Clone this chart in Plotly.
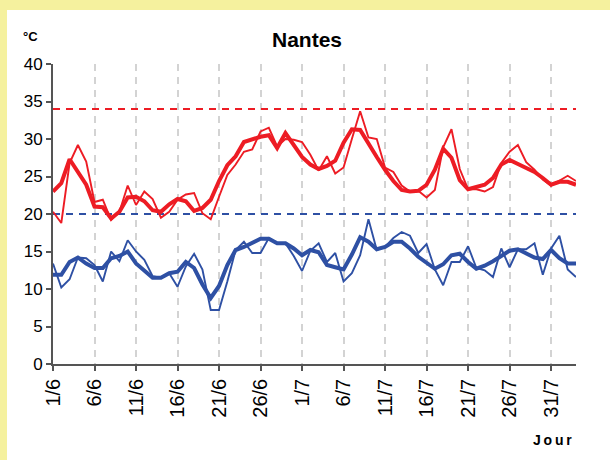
import plotly.graph_objects as go

# Day labels 1/6 .. 3/8
days = [f"{d}/6" for d in range(1, 31)] + [f"{d}/7" for d in range(1, 32)] + [f"{d}/8" for d in range(1, 4)]
tick_labels = days[0:61:5]

tmax = [20.3, 18.8, 26.8, 29.2, 27.0, 21.6, 21.9, 19.2, 20.3, 23.8,
        21.2, 23.0, 22.0, 19.5, 20.3, 21.9, 22.6, 22.8, 20.1, 19.3,
        22.3, 25.2, 26.6, 28.3, 28.6, 31.0, 31.5, 29.0, 30.0, 29.9,
        29.6, 27.9, 25.8, 27.7, 25.4, 26.2, 30.0, 33.7, 30.2, 30.0,
        26.2, 25.6, 23.8, 23.0, 23.1, 22.2, 23.2, 28.9, 31.3, 26.0,
        23.3, 23.3, 23.0, 23.6, 26.8, 28.3, 29.2, 26.9, 25.9, 24.6,
        23.8, 24.4, 25.1, 24.4]
tmax_smooth = [23.0, 24.1, 27.3, 25.7, 23.9, 21.0, 20.9, 19.4, 20.3, 22.2,
               22.3, 21.7, 20.5, 20.3, 21.3, 22.0, 21.7, 20.4, 20.8, 21.9,
               24.4, 26.5, 27.7, 29.6, 30.0, 30.3, 30.5, 28.8, 30.8, 29.2,
               27.6, 26.6, 26.0, 26.4, 27.1, 29.5, 31.3, 31.2, 29.3, 27.6,
               25.9, 24.4, 23.2, 23.0, 23.1, 23.9, 25.9, 28.7, 27.5, 24.5,
               23.3, 23.6, 23.9, 24.8, 26.6, 27.2, 26.7, 26.1, 25.6, 24.8,
               23.9, 24.3, 24.3, 23.9]
tmin = [13.4, 10.2, 11.3, 14.2, 14.1, 13.2, 11.0, 15.0, 13.7, 16.5,
        15.0, 13.9, 11.7, 11.5, 12.1, 10.3, 13.0, 14.7, 12.6, 7.2,
        7.2, 11.0, 15.2, 16.3, 14.8, 14.8, 16.8, 16.1, 16.1, 14.4,
        12.4, 15.1, 16.1, 13.6, 14.8, 11.0, 12.1, 14.5, 19.3, 15.2,
        15.6, 16.8, 17.6, 17.1, 14.8, 16.0, 12.6, 10.5, 13.6, 13.6,
        15.7, 12.8, 12.5, 11.6, 15.4, 12.9, 15.3, 15.3, 16.1, 11.9,
        15.4, 17.1, 12.6, 11.6]
tmin_smooth = [11.9, 11.9, 13.6, 14.2, 13.4, 12.8, 12.8, 14.1, 14.4, 15.0,
               13.4, 12.5, 11.5, 11.5, 12.1, 12.3, 13.6, 12.8, 10.6, 8.8,
               10.4, 13.2, 15.2, 15.6, 16.1, 16.7, 16.7, 16.1, 16.1, 15.4,
               14.5, 15.2, 14.9, 13.2, 12.9, 12.6, 14.6, 16.9, 16.3, 15.3,
               15.6, 16.3, 16.3, 15.4, 14.3, 13.5, 12.7, 13.3, 14.5, 14.7,
               13.6, 12.7, 13.1, 13.7, 14.4, 15.1, 15.3, 14.8, 14.2, 14.0,
               15.2, 14.1, 13.4, 13.4]
max_threshold = 34.0
min_threshold = 20.0

RED = "rgb(237,28,36)"
BLUE = "rgb(46,80,164)"
YELLOW = "#F5F19E"

fig = go.Figure()
fig.add_trace(go.Scatter(x=days, y=[max_threshold] * len(days), mode="lines",
                         line=dict(color=RED, width=2, dash="7px,6px"), hoverinfo="skip"))
fig.add_trace(go.Scatter(x=days, y=[min_threshold] * len(days), mode="lines",
                         line=dict(color=BLUE, width=2, dash="7px,6px"), hoverinfo="skip"))
fig.add_trace(go.Scatter(x=days, y=tmax, mode="lines", line=dict(color=RED, width=1.9)))
fig.add_trace(go.Scatter(x=days, y=tmin, mode="lines", line=dict(color=BLUE, width=1.9)))
fig.add_trace(go.Scatter(x=days, y=tmax_smooth, mode="lines", line=dict(color=RED, width=4)))
fig.add_trace(go.Scatter(x=days, y=tmin_smooth, mode="lines", line=dict(color=BLUE, width=4)))

L, R, T, B = 53, 34, 64, 96
W, H = 610, 460
pw, ph = W - L - R, H - T - B

fig.update_layout(
    width=W, height=H,
    margin=dict(l=L, r=R, t=T, b=B),
    paper_bgcolor=YELLOW,
    plot_bgcolor="white",
    showlegend=False,
    font=dict(family="Liberation Sans, Arial, sans-serif", color="black"),
    title=dict(text="<b>Nantes</b>", x=307 / W, xref="container", xanchor="center",
               y=1 - 40 / H, yref="container", yanchor="middle",
               font=dict(size=21, color="black")),
    shapes=[dict(type="rect", xref="paper", yref="paper",
                 x0=(7 - L) / pw, x1=(W + 5 - L) / pw,
                 y0=(H - B - H - 5) / ph, y1=(H - B - 10) / ph,
                 fillcolor="white", line=dict(width=0), layer="below")],
    annotations=[
        dict(text="<b>°C</b>", xref="paper", yref="paper", x=(30 - L) / pw, y=(H - B - 37) / ph,
             showarrow=False, font=dict(size=13), xanchor="center", yanchor="middle"),
        dict(text="<b>J\u2009o\u2009u\u2009r</b>", xref="paper", yref="paper", x=(552 - L) / pw,
             y=(H - B - 440) / ph,
             showarrow=False, font=dict(size=14), xanchor="center", yanchor="middle"),
    ],
)

fig.update_xaxes(
    type="category", range=[0, len(days) - 1],
    tickmode="array", tickvals=tick_labels, ticktext=tick_labels,
    tickangle=-90, tickfont=dict(size=20),
    ticks="outside", ticklen=5, tickcolor="#555", tickwidth=1.5,
    showgrid=True, gridcolor="#D3D3D3", gridwidth=2, griddash="7px,6px",
    showline=True, linecolor="#555", linewidth=1.5,
    zeroline=False,
)
fig.update_yaxes(
    range=[0, 40], dtick=5, tick0=0,
    tickfont=dict(size=17),
    ticks="outside", ticklen=5, tickcolor="#555", tickwidth=1.5,
    showgrid=False, zeroline=False,
    showline=True, linecolor="#555", linewidth=2,
)

fig.write_html("out.html", config={"displayModeBar": False},
               post_script="document.body.style.margin='0';document.body.style.overflow='hidden';")
